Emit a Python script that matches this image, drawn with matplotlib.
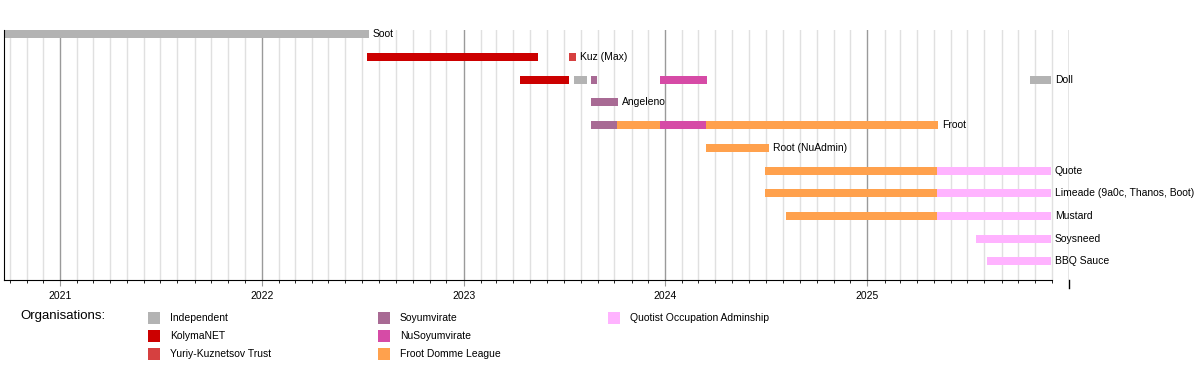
import datetime as dt
import matplotlib
matplotlib.use("Agg")
import matplotlib.pyplot as plt
import matplotlib.dates as mdates
from matplotlib.patches import Rectangle

plt.rcParams["font.family"] = ["Liberation Sans", "DejaVu Sans"]

# Data ........................................................................

orgs = ["Independent", "KolymaNET", "Yuriy-Kuznetsov Trust", "Soyumvirate",
        "NuSoyumvirate", "Froot Domme League", "Quotist Occupation Adminship"]
org_colors = ["#b3b3b3", "#cc0000", "#d64040", "#a86a94",
              "#d64ba6", "#ffa14d", "#ffb3ff"]

rows = ["Soot", "Kuz (Max)", "Doll", "Angeleno", "Froot", "Root (NuAdmin)",
        "Quote", "Limeade (9a0c, Thanos, Boot)", "Mustard", "Soysneed", "BBQ Sauce"]

seg_row = ["Soot",
           "Kuz (Max)", "Kuz (Max)",
           "Doll", "Doll", "Doll", "Doll", "Doll",
           "Angeleno",
           "Froot", "Froot", "Froot", "Froot",
           "Root (NuAdmin)",
           "Quote", "Quote",
           "Limeade (9a0c, Thanos, Boot)", "Limeade (9a0c, Thanos, Boot)",
           "Mustard", "Mustard",
           "Soysneed",
           "BBQ Sauce"]
seg_org = [0,
           1, 2,
           1, 0, 3, 4, 0,
           3,
           3, 5, 4, 5,
           5,
           5, 6,
           5, 6,
           5, 6,
           6,
           6]
seg_start = ["2020-09-01",
             "2022-07-11", "2023-07-10",
             "2023-04-14", "2023-07-20", "2023-08-19", "2023-12-23", "2025-10-22",
             "2023-08-19",
             "2023-08-19", "2023-10-06", "2023-12-23", "2024-03-15",
             "2024-03-15",
             "2024-06-29", "2025-05-07",
             "2024-06-29", "2025-05-07",
             "2024-08-07", "2025-05-07",
             "2025-07-17",
             "2025-08-05"]
seg_end = ["2022-07-13",
           "2023-05-16", "2023-07-23",
           "2023-07-11", "2023-08-13", "2023-08-30", "2024-03-17", "2025-11-29",
           "2023-10-08",
           "2023-10-06", "2023-12-23", "2024-03-15", "2025-05-08",
           "2024-07-06",
           "2025-05-07", "2025-11-29",
           "2025-05-07", "2025-11-29",
           "2025-05-07", "2025-11-29",
           "2025-11-29",
           "2025-11-29"]

year_ticks = ["2021", "2022", "2023", "2024", "2025"]


def d(s):
    return mdates.date2num(dt.datetime.strptime(s, "%Y-%m-%d"))


# Figure ......................................................................

fig = plt.figure(figsize=(12, 3.7), dpi=100)
W, H = 1200, 370
ax = fig.add_axes([4 / W, 1 - 280 / H, 1065 / W, 250 / H])

x0 = d("2020-09-21")
x1 = d("2026-01-01")
ax.set_xlim(x0, x1)
ax.set_ylim(10.82, -0.19)

# Bars
ends = {}
for r, o, s, e in zip(seg_row, seg_org, seg_start, seg_end):
    i = rows.index(r)
    ax.barh(i, d(e) - d(s), left=d(s), height=0.35, color=org_colors[o],
            zorder=2, linewidth=0)
    ends[r] = max(ends.get(r, 0), d(e))

# Row labels
for i, r in enumerate(rows):
    ax.annotate(r, (ends[r], i), xytext=(3, 0), textcoords="offset points",
                va="center", ha="left", fontsize=7.5, zorder=0.4)

# Grid: minor months under the labels, major years over them
ax.xaxis.set_minor_locator(mdates.MonthLocator())
year_pos = [d(y + "-01-01") for y in year_ticks]
ax.set_xticks(year_pos)
ax.set_xticklabels(year_ticks, fontsize=7.5)
for m in ax.xaxis.get_minorticklocs():
    if m not in year_pos:
        ax.axvline(m, color="#e0e0e0", linewidth=1, zorder=0.3)
for y in year_pos + [x1]:
    ax.axvline(y, color="#9a9a9a", linewidth=1, zorder=0.6)
ax.axvline(x1, ymin=-0.03, ymax=0, color="black", linewidth=1, clip_on=False)

ax.tick_params(axis="x", which="major", length=4, color="#9a9a9a", pad=4)
ax.tick_params(axis="x", which="minor", length=2.5, color="black")
ax.tick_params(axis="y", left=False, labelleft=False)
ax.spines["top"].set_visible(False)
ax.spines["right"].set_visible(False)
ax.spines["bottom"].set_bounds(x0, d("2025-12-01"))

# Legend
fig.text(20 / W, 1 - 316 / H, "Organisations:", fontsize=9.5, va="center")
col_x = [148, 378, 608]
row_y = [318, 336, 354]
for k, (name, c) in enumerate(zip(orgs, org_colors)):
    cx = col_x[k // 3]
    cy = row_y[k % 3]
    fig.add_artist(Rectangle((cx / W, 1 - (cy + 6) / H), 12 / W, 12 / H,
                             transform=fig.transFigure, color=c, linewidth=0))
    fig.text((cx + 22) / W, 1 - cy / H, name, fontsize=7.5, va="center")

fig.savefig("out.png", dpi=100)
